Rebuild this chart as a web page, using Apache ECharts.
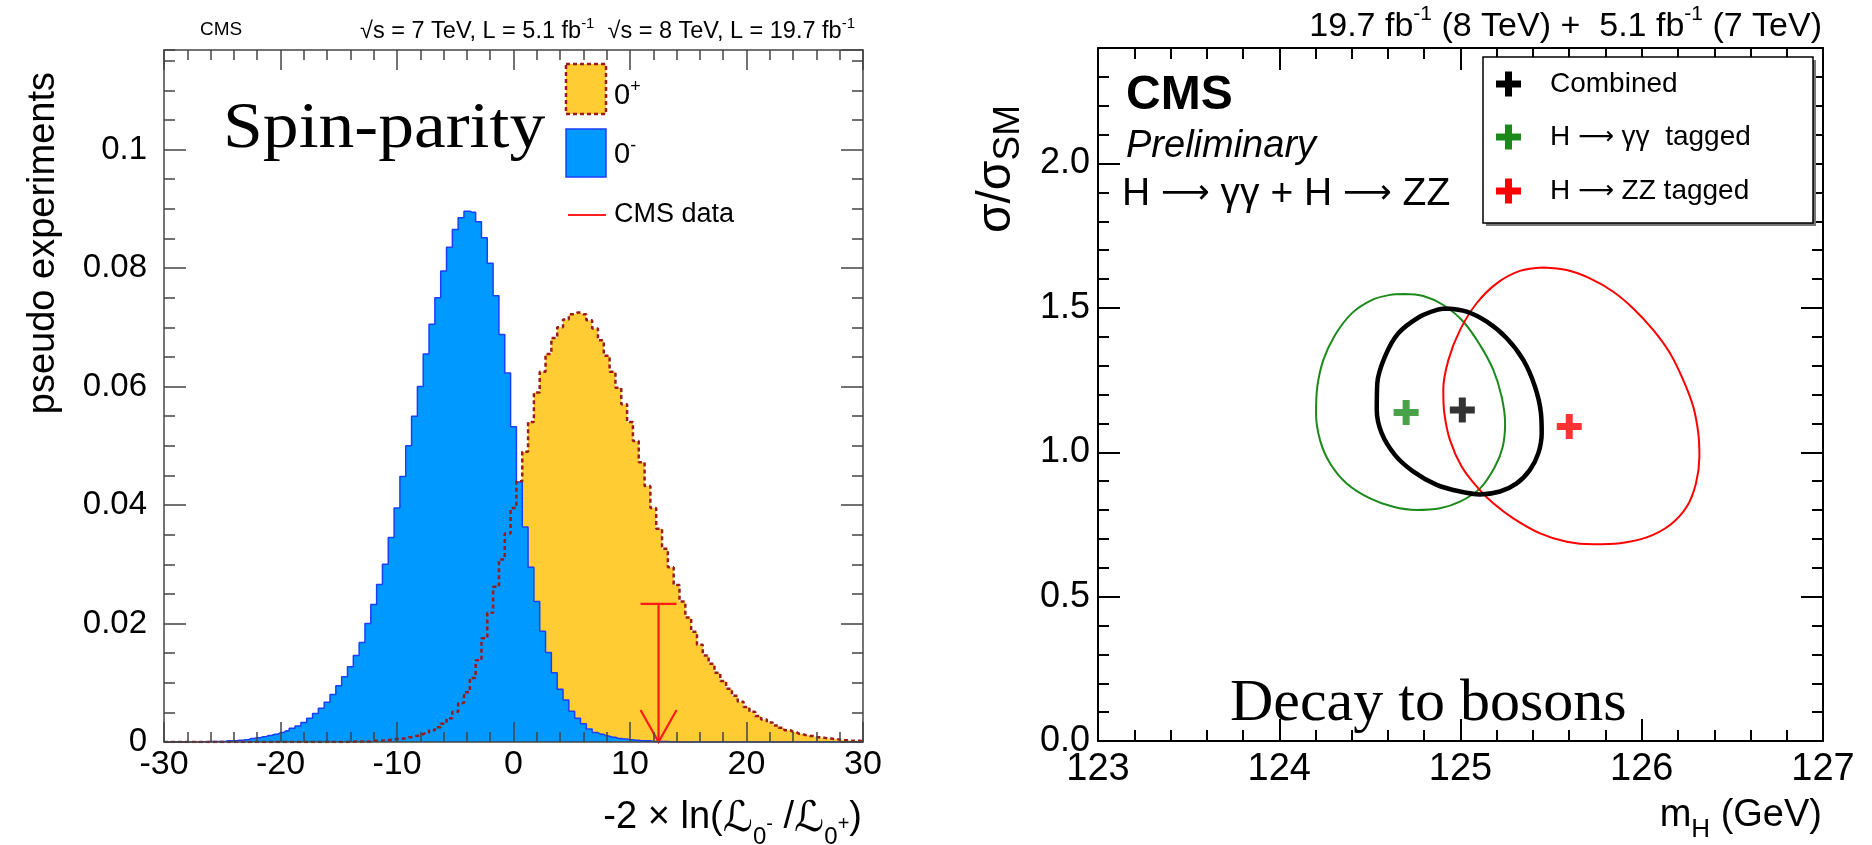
<!DOCTYPE html>
<html><head><meta charset="utf-8">
<script src="https://cdn.jsdelivr.net/npm/echarts@6/dist/echarts.min.js"></script>
<style>html,body{margin:0;padding:0;background:#fff;}#c{width:1872px;height:845px;}</style>
</head><body><div id="c"></div>
<script>
// ---------------- DATA ----------------
// Left panel: histograms of -2 ln(L0-/L0+), 121 bins of width 0.5 centred on -30 ... 30
const binStart = -30;
const binWidth = 0.5;
// 0- (pseudoscalar) pseudo-experiments
const histPseudoscalar = [
  0,0,0,0,0,0,0,0.00005,0.0001,0.0001,
  0.0001,0.0002,0.0002,0.0003,0.0004,0.0006,0.0007,0.0009,0.0011,0.0013,
  0.0016,0.0019,0.0023,0.0027,0.0033,0.0040,0.0048,0.0057,0.0067,0.0080,
  0.0095,0.0110,0.0127,0.0146,0.0168,0.0200,0.0232,0.0266,0.0300,0.0345,
  0.0395,0.0448,0.0500,0.0550,0.0600,0.0655,0.0705,0.0750,0.0795,0.0835,
  0.0865,0.0885,0.0896,0.0894,0.0878,0.0851,0.0808,0.0753,0.0688,0.0623,
  0.0532,0.0439,0.0363,0.0295,0.0237,0.0187,0.0151,0.0117,0.0089,0.0071,
  0.0052,0.0040,0.0031,0.0022,0.0016,0.0013,0.0010,0.0008,0.0006,0.0005,
  0.0004,0.0003,0.0002,0.0002,0.0001,0.0001,0.0001,0.00005,0,0,
  0,0,0,0,0,0,0,0,0,0,
  0,0,0,0,0,0,0,0,0,0,
  0,0,0,0,0,0,0,0,0,0,
  0
];
// 0+ (SM scalar) pseudo-experiments
const histScalar = [
  0,0,0,0,0,0,0,0,0,0,
  0,0,0,0,0,0,0,0,0,0,
  0,0,0,0,0,0,0,0,0,0,
  0,0,0.00005,0.0001,0.0001,0.0001,0.0002,0.0002,0.0003,0.0004,
  0.0005,0.0006,0.0008,0.0010,0.0013,0.0016,0.0020,0.0025,0.0031,0.0040,
  0.0051,0.0066,0.0084,0.0108,0.0138,0.0175,0.0218,0.0262,0.0308,0.0352,
  0.0395,0.0440,0.0490,0.0540,0.0590,0.0625,0.0655,0.0682,0.0700,0.0713,
  0.0722,0.0725,0.0722,0.0712,0.0698,0.0678,0.0652,0.0625,0.0598,0.0570,
  0.0540,0.0508,0.0472,0.0432,0.0395,0.0360,0.0326,0.0295,0.0265,0.0237,
  0.0210,0.0186,0.0164,0.0146,0.0132,0.0117,0.0103,0.0090,0.0078,0.0068,
  0.0059,0.0051,0.0044,0.0038,0.0033,0.0028,0.0024,0.0020,0.0017,0.0014,
  0.0012,0.0010,0.0008,0.0007,0.0006,0.0005,0.0004,0.0003,0.0002,0.0002,
  0.0001
];
// observed CMS value [x, arrow top]
const cmsDataObs = [[12.45, 0.0233]];

// Right panel: 68% CL contours in (mH, sigma/sigmaSM)
const contourCombined = [[124.924,1.498],[125.034,1.487],[125.145,1.452],[125.255,1.395],[125.347,1.319],[125.411,1.227],[125.444,1.135],[125.448,1.066],[125.429,0.996],[125.383,0.939],[125.310,0.892],[125.218,0.864],[125.108,0.854],[124.997,0.864],[124.869,0.887],[124.740,0.933],[124.639,0.990],[124.565,1.066],[124.538,1.146],[124.541,1.239],[124.583,1.331],[124.657,1.412],[124.777,1.470],[124.869,1.493]];
const contourGG = [[124.688,1.548],[124.795,1.541],[124.905,1.510],[125.016,1.452],[125.108,1.371],[125.181,1.285],[125.227,1.192],[125.246,1.100],[125.233,1.019],[125.190,0.950],[125.108,0.875],[124.997,0.829],[124.887,0.806],[124.758,0.800],[124.629,0.811],[124.501,0.840],[124.372,0.892],[124.280,0.962],[124.225,1.042],[124.203,1.135],[124.210,1.227],[124.243,1.319],[124.308,1.406],[124.400,1.481],[124.510,1.527],[124.611,1.545]];
const contourZZ = [[125.457,1.640],[125.586,1.631],[125.714,1.602],[125.843,1.556],[125.953,1.498],[126.064,1.423],[126.156,1.343],[126.229,1.250],[126.284,1.158],[126.312,1.066],[126.318,0.985],[126.299,0.892],[126.248,0.811],[126.156,0.748],[126.027,0.705],[125.880,0.685],[125.733,0.681],[125.586,0.690],[125.439,0.719],[125.291,0.771],[125.181,0.823],[125.098,0.875],[125.007,0.950],[124.942,1.042],[124.911,1.135],[124.905,1.216],[124.933,1.319],[124.997,1.423],[125.089,1.516],[125.200,1.585],[125.328,1.628]];
const bestCombined = [125.01, 1.146];
const bestGG = [124.70, 1.138];
const bestZZ = [125.60, 1.089];

const leftXRange = [-30, 30];
const leftYRange = [0, 0.1168];
const rightXRange = [123, 127];
const rightYRange = [0, 2.4];
const legendLeft = ['0+', '0-', 'CMS data'];
const legendRight = ['Combined', 'H \u2192 \u03b3\u03b3  tagged', 'H \u2192 ZZ tagged'];

// ---------------- CHART ----------------
const FONT = "'Liberation Sans', Arial, Helvetica, sans-serif";
const SERIF = "'Liberation Serif', 'Times New Roman', serif";
const ARROWFONT = "'DejaVu Sans', sans-serif";
const LONGARROW = '\u27f6';
const toPairs = arr => arr.map((v, i) => [binStart + binWidth * i, v]);
const closeLoop = arr => arr.concat([arr[0]]);

const chart = echarts.init(document.getElementById('c'), null, {renderer: 'canvas'});

function axisSet(gridIndex, pos, min, max, interval, majorLen, minorInterval, minorLen, lineColor, lineWidth, labelOpt) {
  const major = {
    type: 'value', gridIndex, position: pos, min, max, interval, z: 10,
    axisLine: {show: true, onZero: false, lineStyle: {color: lineColor, width: lineWidth}},
    axisTick: {show: true, inside: true, length: majorLen, lineStyle: {color: lineColor, width: lineWidth}},
    axisLabel: labelOpt ? labelOpt : {show: false},
    splitLine: {show: false}
  };
  const minor = {
    type: 'value', gridIndex, position: pos, min, max, interval: minorInterval, z: 10,
    axisLine: {show: false, onZero: false},
    axisTick: {show: true, inside: true, length: minorLen, lineStyle: {color: lineColor, width: lineWidth}},
    axisLabel: {show: false},
    splitLine: {show: false}
  };
  return [major, minor];
}

const xAxes = [].concat(
  axisSet(0, 'bottom', leftXRange[0], leftXRange[1], 10, 20, 2, 10, '#444', 1.5,
    {show: true, fontSize: 34, fontFamily: FONT, color: '#000', margin: 6}),
  axisSet(0, 'top', leftXRange[0], leftXRange[1], 10, 20, 2, 10, '#444', 1.5, null),
  axisSet(1, 'bottom', rightXRange[0], rightXRange[1], 1, 22, 0.2, 11, '#000', 2,
    {show: true, fontSize: 38, fontFamily: FONT, color: '#000', margin: 10}),
  axisSet(1, 'top', rightXRange[0], rightXRange[1], 1, 22, 0.2, 11, '#000', 2, null)
);
const yAxes = [].concat(
  axisSet(0, 'left', leftYRange[0], leftYRange[1], 0.02, 22, 0.005, 11, '#444', 1.5,
    {show: true, fontSize: 33, fontFamily: FONT, color: '#000', margin: 17, showMaxLabel: false,
     formatter: v => String(parseFloat(v.toFixed(3)))}),
  axisSet(0, 'right', leftYRange[0], leftYRange[1], 0.02, 22, 0.005, 11, '#444', 1.5, null),
  axisSet(1, 'left', rightYRange[0], rightYRange[1], 0.5, 22, 0.1, 11, '#000', 2,
    {show: true, fontSize: 36, fontFamily: FONT, color: '#000', margin: 8, showMaxLabel: false,
     formatter: v => v.toFixed(1)}),
  axisSet(1, 'right', rightYRange[0], rightYRange[1], 0.5, 22, 0.1, 11, '#000', 2, null)
);

const plusPath = 'path://M0,9H9V0H16V9H25V16H16V25H9V16H0Z';

function T(x, y, text, o) {
  o = o || {};
  const el = {
    type: 'text', x, y, z: 100, rotation: o.rotation || 0,
    style: Object.assign({text, fill: '#000', fontFamily: FONT, fontSize: 20,
      align: 'left', verticalAlign: 'middle'}, o.style || {})
  };
  if (o.scaleX) el.scaleX = o.scaleX;
  return el;
}
function R(x, y, w, h, style) {
  return {type: 'rect', z: 90, shape: {x, y, width: w, height: h}, style};
}
const tok = (size, extra) => Object.assign({fontSize: size, fontFamily: FONT, fill: '#000'}, extra || {});

const graphics = [
  // ---- left panel texts ----
  T(44, 72, 'pseudo experiments', {rotation: Math.PI / 2, style: {fontSize: 38, align: 'right'}}),
  T(200, 30, 'CMS', {style: {fontSize: 19}}),
  T(855, 30, '{a|\u221as = 7 TeV, L = 5.1 fb}{s|-1}{a|  \u221as = 8 TeV, L = 19.7 fb}{s|-1}', {style: {align: 'right',
    rich: {a: tok(23.5, {lineHeight: 27, verticalAlign: 'bottom'}), s: tok(15, {lineHeight: 15, verticalAlign: 'top'})}}}),
  T(223, 130, 'Spin-parity', {scaleX: 1.085, style: {fontFamily: SERIF, fontSize: 66}}),
  T(862, 799, '{m|-2 \u00d7 ln(}{L|\u2112}{sb|0}{sp|-}{m| /}{L|\u2112}{sb|0}{sp|+}{m|)}', {style: {align: 'right', verticalAlign: 'top',
    rich: {m: tok(38, {lineHeight: 50, verticalAlign: 'top'}),
           L: tok(42, {fontFamily: ARROWFONT, fontStyle: 'italic', lineHeight: 50, verticalAlign: 'top'}),
           sb: tok(24, {lineHeight: 20, verticalAlign: 'bottom'}),
           sp: tok(20, {lineHeight: 20, verticalAlign: 'middle'})}}}),
  // left legend
  R(566, 64, 40, 50, {fill: '#ffcc33', stroke: '#9b1b1b', lineWidth: 2.5, lineDash: [4, 3]}),
  R(566, 129, 40, 48, {fill: '#0099ff', stroke: '#1b3fff', lineWidth: 1.5}),
  {type: 'line', z: 90, shape: {x1: 568, y1: 215, x2: 606, y2: 215}, style: {stroke: '#ff2020', lineWidth: 2}},
  T(614, 94, '{n|0}{s|+}', {style: {rich: {n: tok(29, {lineHeight: 32, verticalAlign: 'bottom'}), s: tok(18, {lineHeight: 16, verticalAlign: 'top'})}}}),
  T(614, 153, '{n|0}{s|-}', {style: {rich: {n: tok(29, {lineHeight: 32, verticalAlign: 'bottom'}), s: tok(18, {lineHeight: 16, verticalAlign: 'top'})}}}),
  T(614, 215, legendLeft[2], {style: {fontSize: 27}}),

  // ---- right panel texts ----
  T(1822, 24, '{a|19.7 fb}{s|-1}{a| (8 TeV) +  5.1 fb}{s|-1}{a| (7 TeV)}', {style: {align: 'right',
    rich: {a: tok(34, {lineHeight: 40, verticalAlign: 'bottom'}), s: tok(21, {lineHeight: 20, verticalAlign: 'top'})}}}),
  T(1126, 96, 'CMS', {style: {fontSize: 48, fontWeight: 'bold'}}),
  T(1126, 146, 'Preliminary', {style: {fontSize: 38, fontStyle: 'italic'}}),
  T(1122, 194, '{a|H }{r|' + LONGARROW + '}{a| \u03b3\u03b3 + H }{r|' + LONGARROW + '}{a| ZZ}', {style: {
    rich: {a: tok(39, {lineHeight: 44}), r: tok(34, {fontFamily: ARROWFONT, lineHeight: 44})}}}),
  T(1230, 704, 'Decay to bosons', {style: {fontFamily: SERIF, fontSize: 60}}),
  T(1000, 105, '{a|\u03c3/\u03c3}{b|SM}', {rotation: Math.PI / 2, style: {align: 'right',
    rich: {a: tok(48, {lineHeight: 54, verticalAlign: 'top'}), b: tok(37, {lineHeight: 28, verticalAlign: 'bottom'})}}}),
  T(1822, 797, '{a|m}{b|H}{a| (GeV)}', {style: {align: 'right', verticalAlign: 'top',
    rich: {a: tok(38, {lineHeight: 46, verticalAlign: 'top'}), b: tok(26, {lineHeight: 22, verticalAlign: 'bottom'})}}}),
  // right legend frame
  R(1486, 60, 330, 166, {fill: '#777'}),
  R(1483, 57, 330, 166, {fill: '#fff', stroke: '#000', lineWidth: 1.5}),
];
const legendColors = ['#000000', '#1b8a1b', '#ff0000'];
const legendYs = [84, 137, 191];
const legendRich = {a: tok(28, {lineHeight: 32}), r: tok(25, {fontFamily: ARROWFONT, lineHeight: 32})};
const legendTexts = ['{a|Combined}', '{a|H }{r|' + LONGARROW + '}{a| \u03b3\u03b3  tagged}', '{a|H }{r|' + LONGARROW + '}{a| ZZ tagged}'];
legendRight.forEach((name, i) => {
  graphics.push(R(1496, legendYs[i] - 3.5, 25, 7, {fill: legendColors[i]}));
  graphics.push(R(1505, legendYs[i] - 12.5, 7, 25, {fill: legendColors[i]}));
  graphics.push(T(1550, legendYs[i], legendTexts[i], {style: {rich: legendRich}}));
});

const option = {
  animation: false,
  backgroundColor: '#fff',
  grid: [
    {left: 164, top: 50, width: 699, height: 692},
    {left: 1098, top: 48, width: 725, height: 693}
  ],
  xAxis: xAxes,
  yAxis: yAxes,
  series: [
    {type: 'line', name: '0+ fill', xAxisIndex: 0, yAxisIndex: 0, step: 'middle', symbol: 'none', z: 2,
     data: toPairs(histScalar), lineStyle: {width: 0, opacity: 0}, areaStyle: {color: '#ffcc33', opacity: 1}},
    {type: 'line', name: '0-', xAxisIndex: 0, yAxisIndex: 0, step: 'middle', symbol: 'none', z: 3,
     data: toPairs(histPseudoscalar), lineStyle: {color: '#1b3fff', width: 1.5}, areaStyle: {color: '#0099ff', opacity: 1}},
    {type: 'line', name: '0+', xAxisIndex: 0, yAxisIndex: 0, step: 'middle', symbol: 'none', z: 4,
     data: toPairs(histScalar), lineStyle: {color: '#9b1b1b', width: 2.5, type: [4, 3]}},
    {type: 'custom', name: 'CMS data', xAxisIndex: 0, yAxisIndex: 0, z: 5, data: cmsDataObs,
     renderItem: function (params, api) {
       const pTop = api.coord([api.value(0), api.value(1)]);
       const pBot = api.coord([api.value(0), 0]);
       const st = {stroke: '#ff1a1a', lineWidth: 2.2, fill: null};
       return {type: 'group', children: [
         {type: 'line', shape: {x1: pTop[0], y1: pTop[1], x2: pBot[0], y2: pBot[1]}, style: st},
         {type: 'line', shape: {x1: pTop[0] - 18, y1: pTop[1], x2: pTop[0] + 18, y2: pTop[1]}, style: st},
         {type: 'polyline', shape: {points: [[pBot[0] - 18, pBot[1] - 32], [pBot[0], pBot[1]], [pBot[0] + 18, pBot[1] - 32]]}, style: st}
       ]};
     }},
    {type: 'line', name: 'H->gg', xAxisIndex: 4, yAxisIndex: 4, smooth: 0.35, symbol: 'none', z: 3,
     data: closeLoop(contourGG), lineStyle: {color: '#1b8a1b', width: 2}},
    {type: 'line', name: 'H->ZZ', xAxisIndex: 4, yAxisIndex: 4, smooth: 0.35, symbol: 'none', z: 3,
     data: closeLoop(contourZZ), lineStyle: {color: '#ff0000', width: 2}},
    {type: 'line', name: 'Combined', xAxisIndex: 4, yAxisIndex: 4, smooth: 0.35, symbol: 'none', z: 4,
     data: closeLoop(contourCombined), lineStyle: {color: '#000', width: 4.5}},
    {type: 'scatter', xAxisIndex: 4, yAxisIndex: 4, symbol: plusPath, symbolSize: 25, z: 6,
     data: [bestGG], itemStyle: {color: '#1b8a1b'}},
    {type: 'scatter', xAxisIndex: 4, yAxisIndex: 4, symbol: plusPath, symbolSize: 25, z: 6,
     data: [bestZZ], itemStyle: {color: '#ff0000'}},
    {type: 'scatter', xAxisIndex: 4, yAxisIndex: 4, symbol: plusPath, symbolSize: 25, z: 6,
     data: [bestCombined], itemStyle: {color: '#000'}}
  ],
  graphic: graphics
};
chart.setOption(option);
</script>
</body></html>
